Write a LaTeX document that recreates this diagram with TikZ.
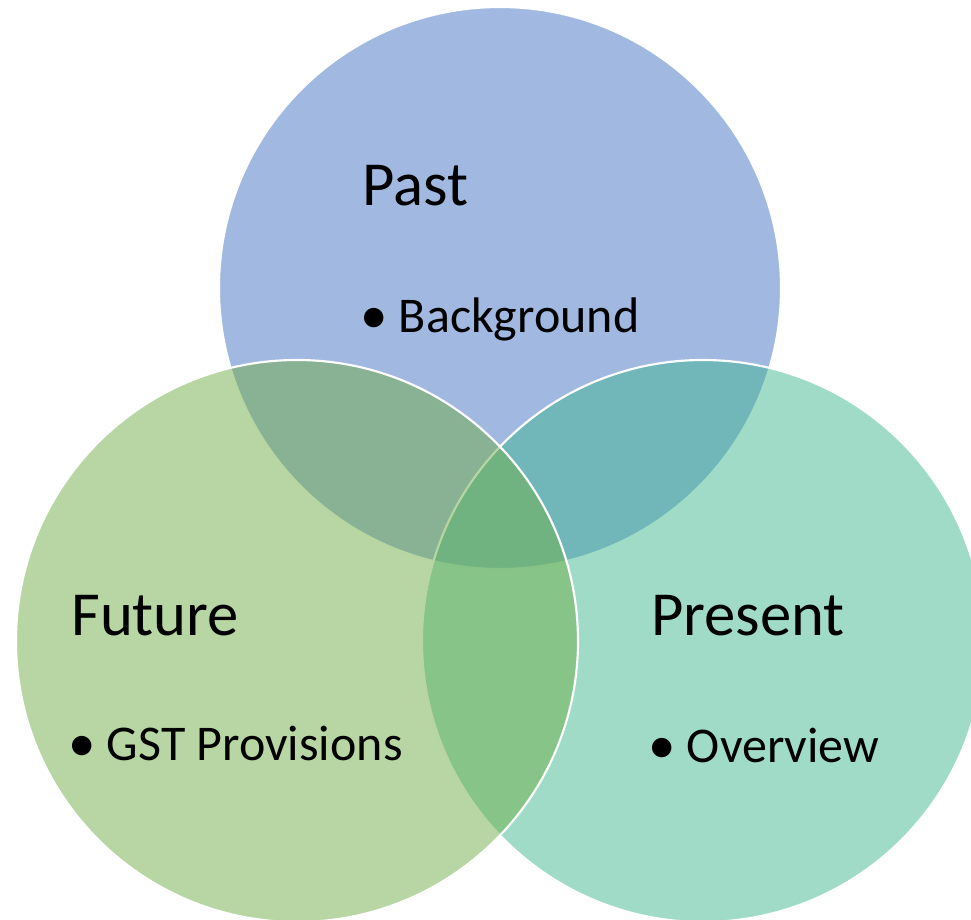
\documentclass[tikz,border=0pt]{standalone}
\usepackage{fontspec}
\setmainfont{Carlito}
\definecolor{pastblue}{RGB}{68,114,196}
\definecolor{presentteal}{RGB}{66,184,146}
\definecolor{futuregreen}{RGB}{112,173,71}
\newcommand{\bulletline}[1]{\makebox[26pt][l]{\hspace{-2.5pt}\raisebox{-0.02em}{\scalebox{1.1}{•}}}#1}
\begin{document}
\begin{tikzpicture}[x=0.75pt,y=-0.75pt,
  venn/.style={circle,draw=white,line width=1.6pt,fill opacity=0.5,
    minimum size=421.5pt,inner sep=0pt},
  heading/.style={anchor=base west,inner sep=0pt,font=\fontsize{47}{52}\selectfont},
  point/.style={anchor=base west,inner sep=0pt,font=\fontsize{37.5}{44}\selectfont}]
  \useasboundingbox (0,0) rectangle (971,920);
  \clip (0,0) rectangle (971,920);
  % circles, back to front
  \node[venn,fill=pastblue] (past) at (500,288) {};
  \node[venn,fill=presentteal] (present) at (703,641) {};
  \node[venn,fill=futuregreen] (future) at (297,641) {};
  % texts
  \node[heading] (pasttitle) at (362,205) {Past};
  \node[point] (pastitem) at (364,332) {\bulletline{Background}};
  \node[heading] (futuretitle) at (71,635) {Future};
  \node[point] (futureitem) at (72,760) {\bulletline{GST Provisions}};
  \node[heading] (presenttitle) at (651,635) {Present};
  \node[point] (presentitem) at (652,762) {\bulletline{Overview}};
\end{tikzpicture}
\end{document}
